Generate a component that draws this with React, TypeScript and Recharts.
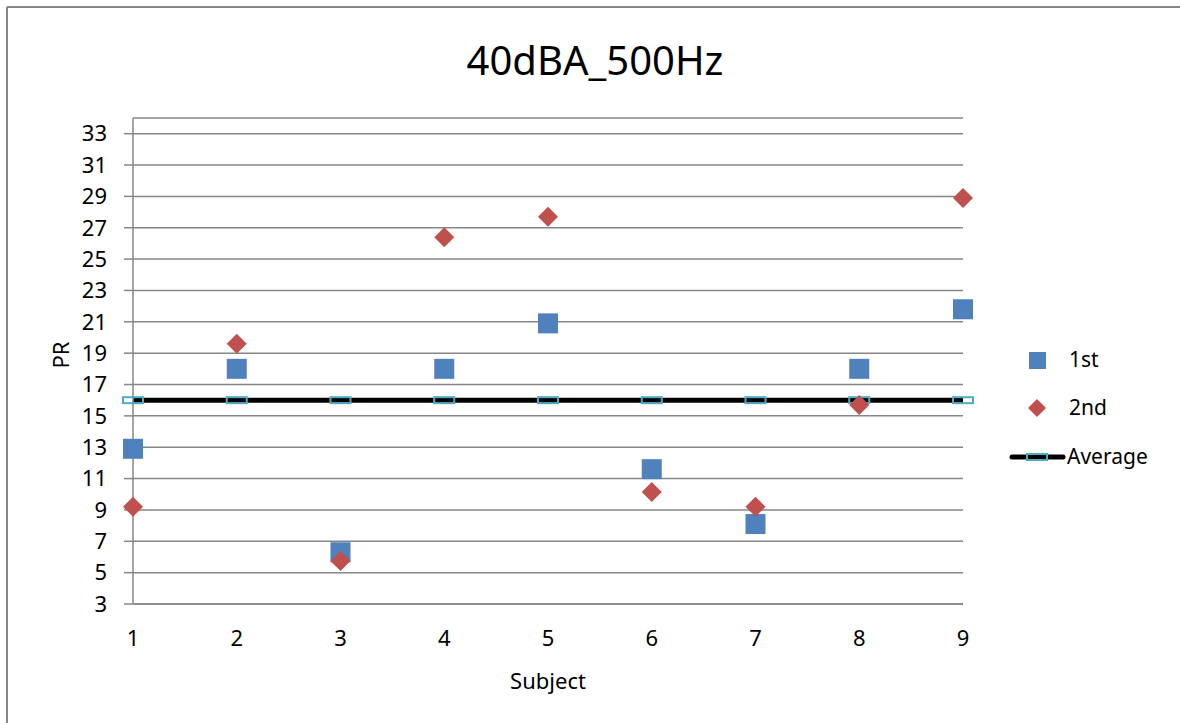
import React from 'react';
import {
  ComposedChart, Scatter, Line, XAxis, YAxis, CartesianGrid,
} from 'recharts';

const subjects = [1, 2, 3, 4, 5, 6, 7, 8, 9];
const firstRun = [12.9, 18.0, 6.3, 18.0, 20.9, 11.6, 8.1, 18.0, 21.8];
const secondRun = [9.2, 19.6, 5.75, 26.4, 27.7, 10.15, 9.2, 15.7, 28.9];
const averageValues = [16, 16, 16, 16, 16, 16, 16, 16, 16];
const yTicks = [3, 5, 7, 9, 11, 13, 15, 17, 19, 21, 23, 25, 27, 29, 31, 33];

const FONT = '"Noto Sans", "Open Sans", sans-serif';
const GRID = '#868686';
const BLUE = '#4f81bd';
const RED = '#c0504d';
const CYAN = '#4bacc6';

const chartData = subjects.map((s, i) => ({
  subject: s,
  first: firstRun[i],
  second: secondRun[i],
  average: averageValues[i],
}));

const SquareDot = (props: any) => {
  const { cx, cy } = props;
  if (cx == null || cy == null) return null;
  return <rect x={cx - 10} y={cy - 10} width={20} height={20} fill={BLUE} />;
};

const DiamondDot = (props: any) => {
  const { cx, cy } = props;
  if (cx == null || cy == null) return null;
  return (
    <polygon
      points={`${cx},${cy - 10} ${cx + 10},${cy} ${cx},${cy + 10} ${cx - 10},${cy}`}
      fill={RED}
    />
  );
};

const DashDot = (props: any) => {
  const { cx, cy, index } = props;
  if (cx == null || cy == null) return null;
  return (
    <rect key={index} x={cx - 10} y={cy - 3} width={20} height={6} fill="none" stroke={CYAN} strokeWidth={2} />
  );
};

// legend drawn by hand, placed to the right of the plot
const ChartLegend = () => (
  <svg width={180} height={150} style={{ position: 'absolute', left: 1000, top: 330 }}>
    <rect x={29} y={22} width={17} height={17} fill={BLUE} />
    <text x={69} y={37} fontSize={21} fontFamily={FONT} fill="#000">1st</text>
    <polygon points="37,69 46,78 37,87 28,78" fill={RED} />
    <text x={69} y={85} fontSize={21} fontFamily={FONT} fill="#000">2nd</text>
    <line x1={12} y1={127} x2={63} y2={127} stroke="#000" strokeWidth={5} strokeLinecap="round" />
    <rect x={27} y={124} width={20} height={6} fill="none" stroke={CYAN} strokeWidth={2} />
    <text x={67} y={134} fontSize={21} fontFamily={FONT} fill="#000">Average</text>
  </svg>
);

export default function App() {
  return (
    <div style={{ position: 'absolute', left: 0, top: 0, width: 1180, height: 723, overflow: 'hidden', background: '#fff' }}>
      <svg width={1180} height={723} style={{ position: 'absolute', left: 0, top: 0 }}>
        <line x1={7} y1={7} x2={1180} y2={7} stroke={GRID} strokeWidth={2} />
        <line x1={7} y1={7} x2={7} y2={723} stroke={GRID} strokeWidth={2} />
      </svg>
      <div
        style={{
          position: 'absolute', left: 0, top: 36, width: 1180, paddingLeft: 10, boxSizing: 'border-box',
          textAlign: 'center', fontFamily: FONT, fontSize: 40, color: '#000', lineHeight: '48px',
        }}
      >
        40dBA_500Hz
      </div>
      <div
        style={{
          position: 'absolute', left: 60, top: 355, transform: 'translate(-50%, -50%) rotate(-90deg)',
          fontFamily: FONT, fontSize: 22, color: '#000', whiteSpace: 'nowrap',
        }}
      >
        PR
      </div>
      <div
        style={{
          position: 'absolute', left: 548, top: 680, transform: 'translate(-50%, -50%)',
          fontFamily: FONT, fontSize: 22, color: '#000', whiteSpace: 'nowrap',
        }}
      >
        Subject
      </div>
      <div style={{ position: 'absolute', left: 0, top: 0 }}>
        <ComposedChart
          width={1180}
          height={723}
          data={chartData}
          margin={{ top: 118, right: 217, bottom: 59, left: 0 }}
        >
          <CartesianGrid horizontal vertical={false} stroke={GRID} strokeWidth={1.5} />
          <XAxis
            type="number"
            dataKey="subject"
            domain={[1, 9]}
            ticks={subjects}
            interval={0}
            height={60}
            tickLine={false}
            tickSize={0}
            tickMargin={26}
            axisLine={{ stroke: GRID, strokeWidth: 1.5 }}
            tick={{ fill: '#000', fontSize: 22, fontFamily: FONT }}
          />
          <YAxis
            type="number"
            domain={[3, 34]}
            ticks={yTicks}
            interval={0}
            width={133}
            tickSize={9}
            tickMargin={17}
            tickLine={{ stroke: GRID, strokeWidth: 1.5 }}
            axisLine={{ stroke: GRID, strokeWidth: 1.5 }}
            tick={{ fill: '#000', fontSize: 22, fontFamily: FONT }}
          />
          <Line
            dataKey="average"
            name="Average"
            stroke="#000"
            strokeWidth={5}
            dot={<DashDot />}
            activeDot={false}
            isAnimationActive={false}
          />
          <Scatter dataKey="first" name="1st" shape={<SquareDot />} isAnimationActive={false} />
          <Scatter dataKey="second" name="2nd" shape={<DiamondDot />} isAnimationActive={false} />
        </ComposedChart>
      </div>
      <ChartLegend />
    </div>
  );
}
